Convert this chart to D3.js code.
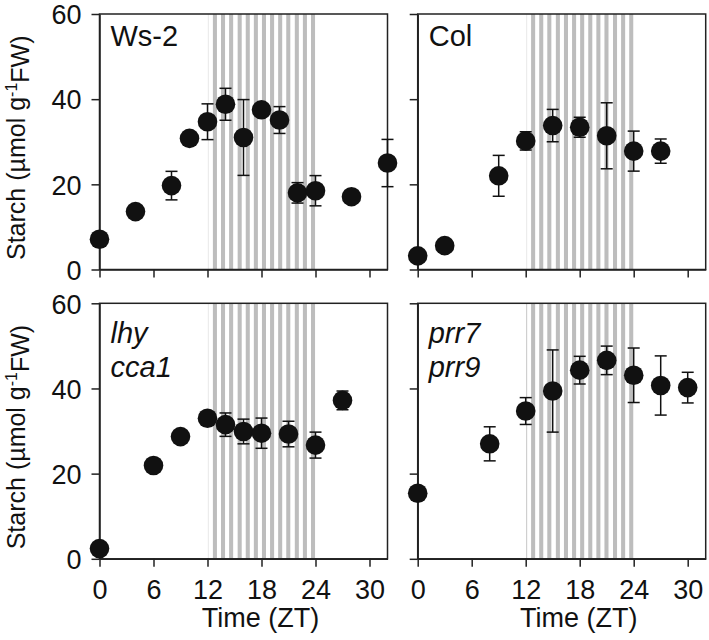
<!DOCTYPE html>
<html><head><meta charset="utf-8">
<script src="https://cdn.jsdelivr.net/npm/d3@7/dist/d3.min.js"></script>
<style>body{margin:0;background:#fff}svg{display:block}text{font-family:"Liberation Sans",Arial,sans-serif;fill:#111}</style>
</head><body><svg id="c" width="709" height="640"></svg>
<script>
// ---- data ----
const xTicks = [0, 6, 12, 18, 24, 30];
const yTicks = [0, 20, 40, 60];
const stripeStarts = [12.6, 13.5, 14.4, 15.35, 16.25, 17.15, 18.05, 18.95, 19.85, 20.75, 21.7, 22.6, 23.5];
const stripeWidth = 0.45;

const wsTime = [0, 4, 8, 10, 12, 14, 16, 18, 20, 22, 24, 28, 32];
const wsStarch = [7.1, 13.6, 19.7, 30.8, 34.7, 38.8, 31.0, 37.5, 35.1, 18.0, 18.5, 17.1, 25.0];
const wsErr = [0, 0, 3.35, 0, 4.2, 3.75, 8.9, 0, 3.15, 2.4, 3.55, 0, 5.55];

const colTime = [0, 3, 9, 12, 15, 18, 21, 24, 27];
const colStarch = [3.2, 5.6, 22.0, 30.2, 33.8, 33.4, 31.4, 27.8, 27.8];
const colErr = [0, 0, 4.8, 2.15, 3.8, 2.35, 7.75, 4.7, 2.85];

const lhyTime = [0, 6, 9, 12, 14, 16, 18, 21, 24, 27];
const lhyStarch = [2.4, 21.9, 28.7, 33.0, 31.5, 29.9, 29.5, 29.3, 26.7, 37.2];
const lhyErr = [0, 0, 0, 0, 2.75, 2.9, 3.55, 3.0, 3.05, 2.2];

const prrTime = [0, 8, 12, 15, 18, 21, 24, 27, 30];
const prrStarch = [15.4, 27.0, 34.7, 39.4, 44.3, 46.6, 43.1, 40.7, 40.2];
const prrErr = [0, 4.0, 3.15, 9.65, 3.25, 3.35, 6.4, 6.95, 3.6];

const panels = [
  {label: ["Ws-2"], italic: false, t: wsTime, v: wsStarch, e: wsErr, col: 0, row: 0},
  {label: ["Col"], italic: false, t: colTime, v: colStarch, e: colErr, col: 1, row: 0},
  {label: ["lhy", "cca1"], italic: true, t: lhyTime, v: lhyStarch, e: lhyErr, col: 0, row: 1},
  {label: ["prr7", "prr9"], italic: true, t: prrTime, v: prrStarch, e: prrErr, col: 1, row: 1}
];

// ---- layout ----
const svg = d3.select("#c");
const colX = [99.5, 417.7], rowY = [14, 303.3];
const pw = 288, ph = 255.5;
const axisColor = "#222";

panels.forEach(p => {
  const g = svg.append("g").attr("transform", `translate(${colX[p.col]},${rowY[p.row]})`);
  const x = d3.scaleLinear().domain([0, 32]).range([0, pw]);
  const y = d3.scaleLinear().domain([0, 60]).range([ph, 0]);

  // faint line at lights-off
  g.append("line").attr("x1", x(12.1)).attr("x2", x(12.1)).attr("y1", 0).attr("y2", ph)
    .attr("stroke", p.col === 1 && p.row === 1 ? "#cfcfcf" : "#ececec").attr("stroke-width", 1.2);
  // stripes
  g.selectAll("rect.s").data(stripeStarts).join("rect")
    .attr("x", d => x(d)).attr("width", d => x(d + stripeWidth) - x(d))
    .attr("y", 0).attr("height", ph).attr("fill", "#bdbdbd");

  // box
  g.append("rect").attr("x", 0).attr("y", 0).attr("width", pw).attr("height", ph)
    .attr("fill", "none").attr("stroke", axisColor).attr("stroke-width", 1.5);

  // axes
  const xa = g.append("g").attr("transform", `translate(0,${ph})`)
    .call(d3.axisBottom(x).tickValues(xTicks).tickSize(8).tickSizeOuter(0).tickFormat(p.row === 1 ? d3.format("d") : ""));
  const ya = g.append("g")
    .call(d3.axisLeft(y).tickValues(yTicks).tickSize(8).tickSizeOuter(0).tickFormat(p.col === 0 ? d3.format("d") : ""));
  [xa, ya].forEach(a => {
    a.select(".domain").attr("stroke", axisColor).attr("stroke-width", 1.5);
    a.selectAll(".tick line").attr("stroke", axisColor).attr("stroke-width", 1.5);
    a.selectAll("text").style("font-size", "27px").attr("fill", "#111");
  });
  xa.selectAll("text").attr("dy", null).attr("y", 0).attr("transform", "translate(0,40)");
  ya.selectAll("text").attr("x", -18).attr("dy", "0.36em");

  // error bars
  const idx = d3.range(p.t.length).filter(i => p.e[i] > 0);
  const eb = g.append("g").attr("stroke", "#111").attr("stroke-width", 1.5);
  eb.selectAll("line.v").data(idx).join("line")
    .attr("x1", i => x(p.t[i])).attr("x2", i => x(p.t[i]))
    .attr("y1", i => y(p.v[i] + p.e[i])).attr("y2", i => y(p.v[i] - p.e[i]));
  eb.selectAll("line.h").data(idx).join("line")
    .attr("x1", i => x(p.t[i]) - 6).attr("x2", i => x(p.t[i]) + 6)
    .attr("y1", i => y(p.v[i] + p.e[i])).attr("y2", i => y(p.v[i] + p.e[i]));
  eb.selectAll("line.l").data(idx).join("line")
    .attr("x1", i => x(p.t[i]) - 6).attr("x2", i => x(p.t[i]) + 6)
    .attr("y1", i => y(p.v[i] - p.e[i])).attr("y2", i => y(p.v[i] - p.e[i]));

  // points
  g.selectAll("circle").data(d3.range(p.t.length)).join("circle")
    .attr("cx", i => x(p.t[i])).attr("cy", i => y(p.v[i])).attr("r", 9.8).attr("fill", "#111");

  // panel label
  const base = p.row === 0 ? 32 : 40;
  p.label.forEach((s, k) => {
    g.append("text").attr("x", 11).attr("y", base + k * 34).text(s)
      .style("font-size", "29px").style("font-style", p.italic ? "italic" : "normal");
  });

  // axis titles
  if (p.row === 1) {
    g.append("text").attr("x", pw / 2 + 17).attr("y", 324).attr("text-anchor", "middle")
      .style("font-size", "27px").text("Time (ZT)");
  }
  if (p.col === 0) {
    const t = g.append("text").attr("transform", `translate(-75,${ph / 2 + 6}) rotate(-90)`)
      .attr("text-anchor", "middle").style("font-size", "25px");
    t.append("tspan").text("Starch (µmol g");
    t.append("tspan").attr("dy", "-0.45em").style("font-size", "16px").text("-1");
    t.append("tspan").attr("dy", "0.45em").text("FW)");
  }
});
</script></body></html>
